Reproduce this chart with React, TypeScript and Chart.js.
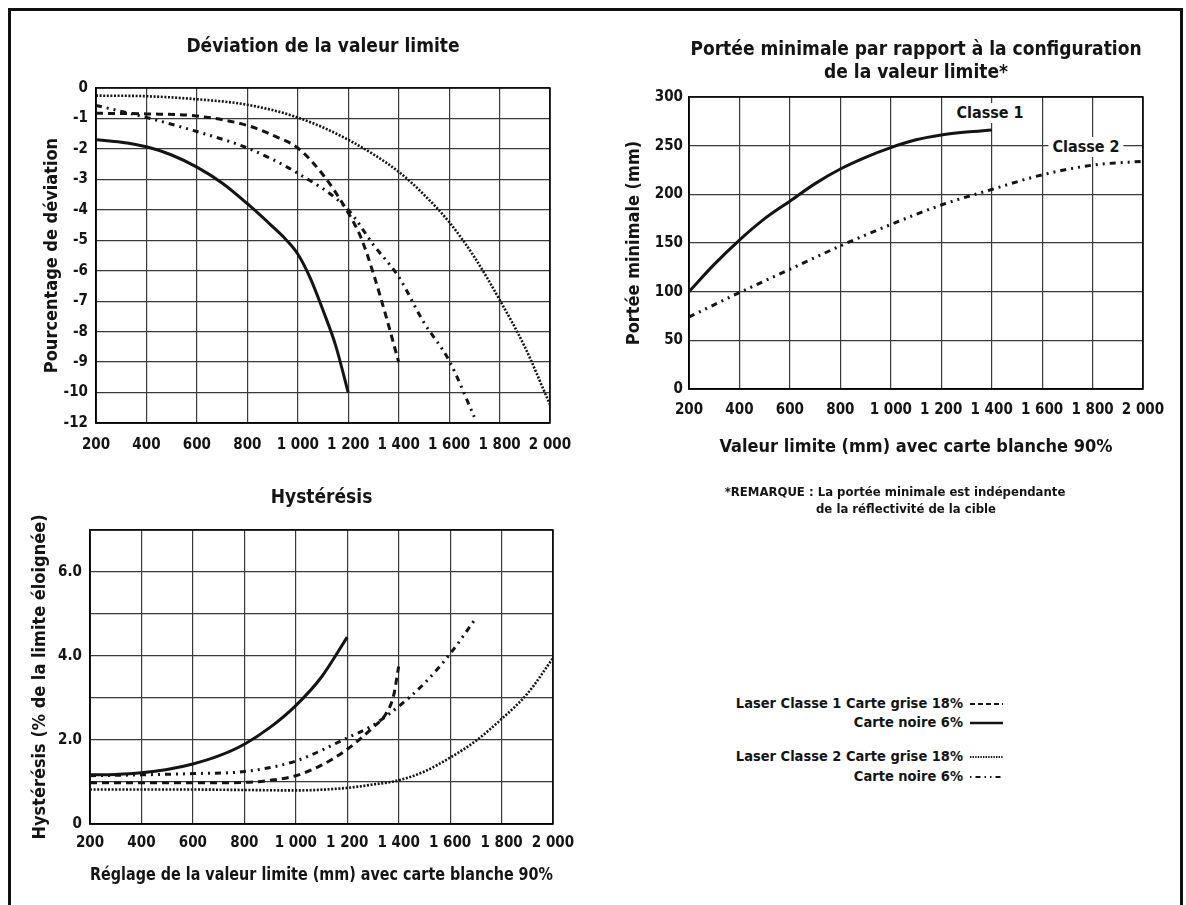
import React, { useEffect, useRef } from 'react';
import { Chart, registerables } from 'chart.js';

Chart.register(...registerables);

const FONT = "'DejaVu Sans Condensed', 'Liberation Sans Narrow', 'Arial Narrow', sans-serif";
const INK = '#141414';

// ---- shared x ticks (mm) ----
const xTickValues = [200, 400, 600, 800, 1000, 1200, 1400, 1600, 1800, 2000];

// ---- Déviation de la valeur limite (%) ----
const devTickLabels = ['0', '-1', '-2', '-3', '-4', '-5', '-6', '-7', '-8', '-9', '-10', '-12'];
const devC1GriseX = [200, 400, 600, 800, 900, 1000, 1100, 1200, 1250, 1300, 1350, 1400];
const devC1GriseY = [-0.83, -0.85, -0.92, -1.23, -1.55, -1.97, -2.85, -4.1, -4.9, -6.1, -7.5, -9.0];
const devC1NoireX = [200, 300, 400, 500, 600, 700, 800, 900, 950, 1000, 1050, 1100, 1150, 1200];
const devC1NoireY = [-1.7, -1.78, -1.93, -2.2, -2.6, -3.12, -3.8, -4.55, -4.95, -5.45, -6.25, -7.3, -8.45, -10.0];
const devC2GriseX = [200, 400, 600, 800, 1000, 1200, 1400, 1500, 1600, 1700, 1800, 1900, 2000];
const devC2GriseY = [-0.25, -0.27, -0.37, -0.55, -0.97, -1.7, -2.75, -3.5, -4.4, -5.55, -6.95, -8.5, -10.8];
const devC2NoireX = [200, 400, 600, 800, 1000, 1200, 1300, 1400, 1500, 1600, 1700];
const devC2NoireY = [-0.57, -0.97, -1.43, -1.97, -2.8, -4.0, -5.15, -6.2, -7.7, -8.95, -11.6];

// ---- Portée minimale (mm) ----
const rangeC1X = [200, 300, 400, 500, 600, 700, 800, 900, 1000, 1100, 1200, 1300, 1400];
const rangeC1Y = [100, 128, 153, 175, 193, 211, 226, 238, 248, 256, 261, 264, 266];
const rangeC2X = [200, 400, 600, 800, 1000, 1200, 1400, 1600, 1800, 2000];
const rangeC2Y = [74, 99, 123, 147, 169, 189, 205, 220, 230, 234];

// ---- Hystérésis (% de la limite éloignée) ----
const hysTickLabels = ['0', '', '2.0', '', '4.0', '', '6.0', ''];
const hysC1GriseX = [200, 400, 600, 800, 900, 1000, 1100, 1200, 1300, 1350, 1380, 1400];
const hysC1GriseY = [0.98, 0.98, 0.98, 0.99, 1.04, 1.15, 1.4, 1.78, 2.3, 2.62, 3.05, 3.75];
const hysC1NoireX = [200, 300, 400, 500, 600, 700, 800, 900, 1000, 1100, 1200];
const hysC1NoireY = [1.17, 1.18, 1.22, 1.3, 1.43, 1.62, 1.9, 2.3, 2.82, 3.5, 4.45];
const hysC2GriseX = [200, 400, 600, 800, 1000, 1200, 1300, 1400, 1500, 1600, 1700, 1800, 1900, 2000];
const hysC2GriseY = [0.82, 0.82, 0.82, 0.81, 0.8, 0.86, 0.94, 1.04, 1.25, 1.58, 1.98, 2.5, 3.1, 3.95];
const hysC2NoireX = [200, 400, 600, 800, 1000, 1200, 1300, 1400, 1500, 1600, 1700];
const hysC2NoireY = [1.15, 1.17, 1.2, 1.25, 1.5, 2.05, 2.35, 2.8, 3.35, 4.05, 4.9];

// deviation axis: below -10 the axis is compressed (label -12 sits one step under -10)
const devToAxis = (v: number) => (v >= -10 ? v : -10 + (v + 10) / 2);

const pts = (xs: number[], ys: number[], map?: (v: number) => number) =>
  xs.map((x, i) => ({ x, y: map ? map(ys[i]) : ys[i] }));

const STYLE: Record<string, any> = {
  c1Grise: { borderDash: [7, 5], borderWidth: 3 },
  c1Noire: { borderDash: [], borderWidth: 3 },
  c2Grise: { borderDash: [2, 1.6], borderWidth: 2.6 },
  c2Noire: { borderDash: [6, 5, 2, 5, 2, 5], borderWidth: 3 },
};

const ds = (label: string, data: any[], style: any) => ({
  label,
  data,
  borderColor: INK,
  backgroundColor: INK,
  pointRadius: 0,
  fill: false,
  ...style,
});

const fmtThousands = (v: number) =>
  v >= 1000 ? `${Math.floor(v / 1000)} ${String(v % 1000).padStart(3, '0')}` : String(v);

const framePlugin = {
  id: 'frame',
  beforeDatasetsDraw(chart: any) {
    const { ctx, chartArea } = chart;
    const { left, top, right, bottom } = chartArea;
    ctx.save();
    ctx.strokeStyle = '#000';
    ctx.lineWidth = 1.5;
    ctx.strokeRect(left, top, right - left, bottom - top);
    ctx.restore();
  },
};

const tickFont = { family: FONT, size: 15, weight: 'bold' as const, lineHeight: 1.2 };
const titleFont = { family: FONT, size: 18, weight: 'bold' as const, lineHeight: 1.2 };

function buildConfig(p: any) {
  return {
    type: 'line',
    data: { datasets: p.datasets },
    options: {
      responsive: false,
      animation: false,
      devicePixelRatio: 1,
      layout: { padding: { left: 0, right: p.padRight, top: 0, bottom: 0 } },
      plugins: {
        legend: { display: false },
        tooltip: { enabled: false },
        title: {
          display: true,
          text: p.title,
          fullSize: false,
          color: INK,
          font: { family: FONT, size: 19, weight: 'bold', lineHeight: 1.2 },
          padding: { top: p.titlePadTop, bottom: p.titlePadBottom },
        },
      },
      elements: {
        point: { radius: 0 },
        line: { tension: 0.4, cubicInterpolationMode: 'monotone' },
      },
      scales: {
        x: {
          type: 'linear',
          min: 200,
          max: 2000,
          afterFit: (s: any) => {
            s.height = p.xHeight;
          },
          afterBuildTicks: (s: any) => {
            s.ticks = xTickValues.map((v) => ({ value: v }));
          },
          ticks: {
            autoSkip: false,
            maxRotation: 0,
            padding: p.xTickPad,
            color: INK,
            font: tickFont,
            callback: (v: any) => fmtThousands(Number(v)),
          },
          grid: { color: '#3a3a3a', lineWidth: 1.2, drawTicks: false },
          border: { display: true, color: '#000', width: 1.5 },
          title: {
            display: !!p.xTitle,
            text: p.xTitle || '',
            color: INK,
            font: titleFont,
            padding: { top: 0, bottom: p.xTitlePadBottom || 0 },
          },
        },
        y: {
          type: 'linear',
          min: p.yMin,
          max: p.yMax,
          afterFit: (s: any) => {
            s.width = p.yWidth;
          },
          ticks: {
            stepSize: p.yStep,
            autoSkip: false,
            padding: p.yTickPad,
            color: INK,
            font: tickFont,
            callback: p.yCallback,
          },
          grid: { color: '#3a3a3a', lineWidth: 1.2, drawTicks: false },
          border: { display: true, color: '#000', width: 1.5 },
          title: {
            display: true,
            text: p.yTitle,
            color: INK,
            font: titleFont,
            padding: { top: p.yTitlePadTop, bottom: 0 },
          },
        },
      },
    },
    plugins: [framePlugin],
  } as any;
}

const textBase: React.CSSProperties = {
  position: 'absolute',
  fontFamily: FONT,
  fontWeight: 'bold',
  color: INK,
  whiteSpace: 'nowrap',
  lineHeight: 1,
};

function Centered({ x, y, size, children, bg }: any) {
  return (
    <div
      style={{
        ...textBase,
        left: x,
        top: y,
        fontSize: size,
        transform: 'translate(-50%, -50%)',
        background: bg || 'transparent',
        padding: bg ? '2px 4px' : 0,
      }}
    >
      {children}
    </div>
  );
}

function LegendRow({ y, text, dash, width }: any) {
  return (
    <>
      <div
        style={{
          ...textBase,
          left: 600,
          width: 363,
          top: y - 8,
          fontSize: 14.5,
          textAlign: 'right',
        }}
      >
        {text}
      </div>
      <svg style={{ position: 'absolute', left: 970, top: y - 3 }} width={34} height={6}>
        <line x1={0} y1={3} x2={33} y2={3} stroke={INK} strokeWidth={width} strokeDasharray={dash} />
      </svg>
    </>
  );
}

export default function App() {
  const c1 = useRef<HTMLCanvasElement>(null);
  const c2 = useRef<HTMLCanvasElement>(null);
  const c3 = useRef<HTMLCanvasElement>(null);

  useEffect(() => {
    const charts: Chart[] = [];

    charts.push(
      new Chart(
        c1.current!,
        buildConfig({
          title: 'Déviation de la valeur limite',
          titlePadTop: 23.6,
          titlePadBottom: 29.6,
          padRight: 40,
          yMin: -11,
          yMax: 0,
          yStep: 1,
          yCallback: (v: any) => devTickLabels[Math.round(-Number(v))] ?? '',
          yWidth: 84,
          yTickPad: 8,
          yTitle: 'Pourcentage de déviation',
          yTitlePadTop: 29.2,
          xHeight: 44,
          xTickPad: 13,
          datasets: [
            ds('Laser Classe 1 Carte grise 18%', pts(devC1GriseX, devC1GriseY, devToAxis), STYLE.c1Grise),
            ds('Laser Classe 1 Carte noire 6%', pts(devC1NoireX, devC1NoireY, devToAxis), STYLE.c1Noire),
            ds('Laser Classe 2 Carte grise 18%', pts(devC2GriseX, devC2GriseY, devToAxis), STYLE.c2Grise),
            ds('Laser Classe 2 Carte noire 6%', pts(devC2NoireX, devC2NoireY, devToAxis), STYLE.c2Noire),
          ],
        })
      )
    );

    charts.push(
      new Chart(
        c2.current!,
        buildConfig({
          title: ['Portée minimale par rapport à la configuration', 'de la valeur limite*'],
          titlePadTop: 26.6,
          titlePadBottom: 12.8,
          padRight: 37,
          yMin: 0,
          yMax: 300,
          yStep: 50,
          yCallback: (v: any) => String(v),
          yWidth: 99,
          yTickPad: 6,
          yTitle: 'Portée minimale (mm)',
          yTitlePadTop: 33.2,
          xHeight: 95,
          xTickPad: 12,
          xTitle: 'Valeur limite (mm) avec carte blanche 90%',
          xTitlePadBottom: 26.2,
          datasets: [
            ds('Classe 1', pts(rangeC1X, rangeC1Y), STYLE.c1Noire),
            ds('Classe 2', pts(rangeC2X, rangeC2Y), STYLE.c2Noire),
          ],
        })
      )
    );

    charts.push(
      new Chart(
        c3.current!,
        buildConfig({
          title: 'Hystérésis',
          titlePadTop: 16.6,
          titlePadBottom: 20.6,
          padRight: 38,
          yMin: 0,
          yMax: 7,
          yStep: 1,
          yCallback: (v: any) => hysTickLabels[Math.round(Number(v))] ?? '',
          yWidth: 78,
          yTickPad: 8,
          yTitle: 'Hystérésis (% de la limite éloignée)',
          yTitlePadTop: 17.2,
          xHeight: 76,
          xTickPad: 10,
          xTitle: 'Réglage de la valeur limite (mm) avec carte blanche 90%',
          xTitlePadBottom: 14.2,
          datasets: [
            ds('Laser Classe 1 Carte grise 18%', pts(hysC1GriseX, hysC1GriseY), STYLE.c1Grise),
            ds('Laser Classe 1 Carte noire 6%', pts(hysC1NoireX, hysC1NoireY), STYLE.c1Noire),
            ds('Laser Classe 2 Carte grise 18%', pts(hysC2GriseX, hysC2GriseY), STYLE.c2Grise),
            ds('Laser Classe 2 Carte noire 6%', pts(hysC2NoireX, hysC2NoireY), STYLE.c2Noire),
          ],
        })
      )
    );

    return () => charts.forEach((c) => c.destroy());
  }, []);

  const canvasStyle = (l: number, t: number, w: number, h: number): React.CSSProperties => ({
    position: 'absolute',
    left: l,
    top: t,
    width: w,
    height: h,
  });

  return (
    <div
      style={{
        position: 'fixed',
        left: 0,
        top: 0,
        width: 1186,
        height: 905,
        overflow: 'hidden',
        background: '#fff',
      }}
    >
      <div
        style={{
          position: 'absolute',
          left: 8,
          top: 8,
          width: 1169,
          height: 910,
          border: '3px solid #111',
          borderBottom: 'none',
        }}
      />
      <canvas ref={c1} width={578} height={455} style={canvasStyle(12, 12, 578, 455)} />
      <canvas ref={c2} width={590} height={472} style={canvasStyle(590, 12, 590, 472)} />
      <canvas ref={c3} width={579} height={430} style={canvasStyle(12, 470, 579, 430)} />

      <Centered x={990} y={113} size={16} bg="#fff">Classe 1</Centered>
      <Centered x={1086} y={147} size={16} bg="#fff">Classe 2</Centered>

      <Centered x={895} y={491} size={13}>*REMARQUE : La portée minimale est indépendante</Centered>
      <Centered x={906} y={508} size={13}>de la réflectivité de la cible</Centered>

      <LegendRow y={704} text="Laser Classe 1 Carte grise 18%" dash="5 3" width={2} />
      <LegendRow y={723} text="Carte noire 6%" dash="" width={2.5} />
      <LegendRow y={757} text="Laser Classe 2 Carte grise 18%" dash="1.4 1.2" width={2} />
      <LegendRow y={777} text="Carte noire 6%" dash="1.5 4 5 4 1.5 4" width={2} />
    </div>
  );
}
